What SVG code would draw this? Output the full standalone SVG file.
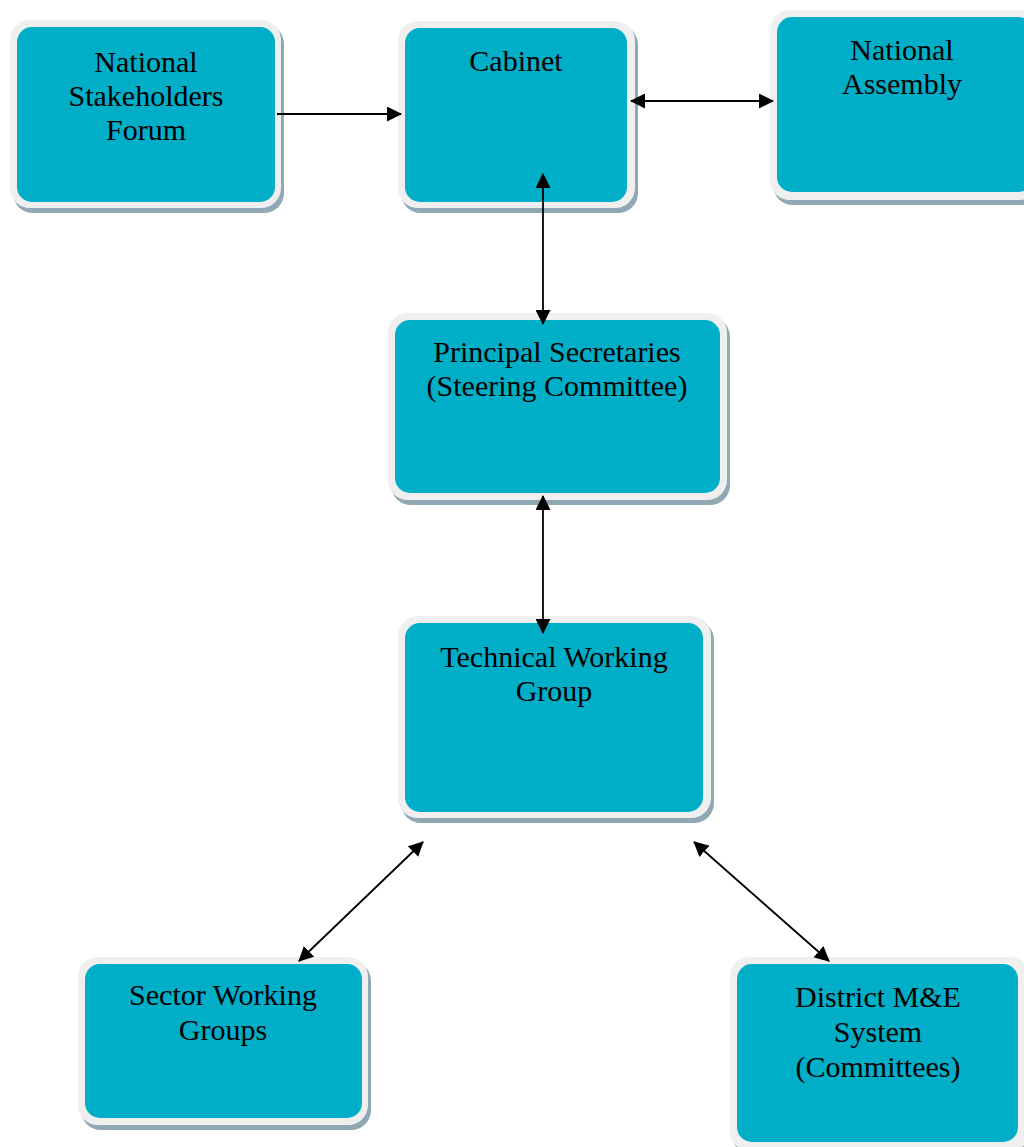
<svg xmlns="http://www.w3.org/2000/svg" width="1024" height="1147" viewBox="0 0 1024 1147">
<defs>
<style>
.sh{fill:#8fa8b3}
.bd{fill:#efefef}
.tl{fill:#00aec7}
.t{font-family:"Liberation Serif","Times New Roman",serif;font-size:30px;fill:#000;text-anchor:middle}
.c{stroke:#000;stroke-width:1.8;fill:none}
</style>
<marker id="ah" viewBox="0 0 15 15" refX="14" refY="7.5" markerWidth="15" markerHeight="15" markerUnits="userSpaceOnUse" orient="auto-start-reverse">
<path d="M0,0 L15,7.5 L0,15 Z" fill="#000"/>
</marker>
</defs>
<rect width="1024" height="1147" fill="#fff"/>
<g id="nsf">
<rect class="sh" x="13" y="24" width="271" height="189" rx="20"/>
<rect class="bd" x="10" y="20" width="271" height="188" rx="20"/>
<rect class="tl" x="17" y="27" width="258" height="175" rx="15"/>
<text class="t" x="146" y="72">National</text>
<text class="t" x="146" y="106">Stakeholders</text>
<text class="t" x="146" y="140">Forum</text>
</g>
<g id="cabinet">
<rect class="sh" x="401" y="25" width="237" height="188" rx="20"/>
<rect class="bd" x="398" y="21" width="237" height="187" rx="20"/>
<rect class="tl" x="405" y="28" width="222" height="174" rx="15"/>
<text class="t" x="516" y="71">Cabinet</text>
</g>
<g id="national-assembly">
<rect class="sh" x="773" y="14" width="270" height="191" rx="20"/>
<rect class="bd" x="770" y="10" width="270" height="190" rx="20"/>
<rect class="tl" x="777" y="17" width="256" height="175" rx="15"/>
<text class="t" x="902" y="60">National</text>
<text class="t" x="902" y="94">Assembly</text>
</g>
<g id="principal-secretaries">
<rect class="sh" x="391" y="317" width="339" height="188" rx="20"/>
<rect class="bd" x="388" y="313" width="339" height="187" rx="20"/>
<rect class="tl" x="395" y="320" width="325" height="173" rx="15"/>
<text class="t" x="557" y="362">Principal Secretaries</text>
<text class="t" x="557" y="396">(Steering Committee)</text>
</g>
<g id="technical-working-group">
<rect class="sh" x="401" y="620" width="313" height="203" rx="20"/>
<rect class="bd" x="398" y="616" width="313" height="202" rx="20"/>
<rect class="tl" x="405" y="623" width="298" height="189" rx="15"/>
<text class="t" x="554" y="667">Technical Working</text>
<text class="t" x="554" y="701">Group</text>
</g>
<g id="sector-working-groups">
<rect class="sh" x="81" y="961" width="290" height="169" rx="20"/>
<rect class="bd" x="78" y="957" width="290" height="168" rx="20"/>
<rect class="tl" x="85" y="964" width="277" height="154" rx="15"/>
<text class="t" x="223" y="1005">Sector Working</text>
<text class="t" x="223" y="1040">Groups</text>
</g>
<g id="district-me">
<rect class="sh" x="733" y="961" width="300" height="195" rx="20"/>
<rect class="bd" x="730" y="957" width="300" height="194" rx="20"/>
<rect class="tl" x="737" y="964" width="281" height="178" rx="15"/>
<text class="t" x="878" y="1007">District M&amp;E</text>
<text class="t" x="878" y="1042">System</text>
<text class="t" x="878" y="1077">(Committees)</text>
</g>
<g id="connectors">
<line class="c" x1="277" y1="114" x2="401" y2="114" marker-end="url(#ah)"/>
<line class="c" x1="631" y1="101" x2="773" y2="101" marker-start="url(#ah)" marker-end="url(#ah)"/>
<line class="c" x1="543" y1="174" x2="543" y2="324" marker-start="url(#ah)" marker-end="url(#ah)"/>
<line class="c" x1="543" y1="496" x2="543" y2="633" marker-start="url(#ah)" marker-end="url(#ah)"/>
<line class="c" x1="423" y1="842" x2="299" y2="961" marker-start="url(#ah)" marker-end="url(#ah)"/>
<line class="c" x1="694" y1="842" x2="829" y2="961" marker-start="url(#ah)" marker-end="url(#ah)"/>
</g>
</svg>
